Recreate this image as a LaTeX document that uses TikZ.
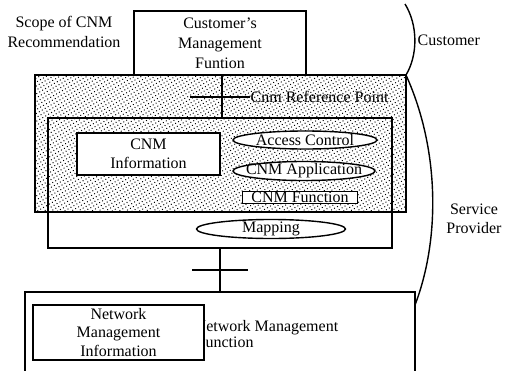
\documentclass[tikz,border=0pt]{standalone}
\usepackage{fontspec}
\setmainfont{Liberation Serif}
\usetikzlibrary{patterns.meta,shapes.geometric}
\begin{document}
\begin{tikzpicture}[x=1pt,y=-1pt,
  line width=1.4pt,
  txt/.style={font=\fontsize{16}{20}\selectfont, align=center, inner sep=0pt},
  txtb/.style={font=\fontsize{16}{18.5}\selectfont, align=center, inner sep=0pt},
  boxw/.style={draw, fill=white, inner sep=0pt},
  ellw/.style={draw, fill=white, ellipse, inner sep=0pt},
  stipple/.style={draw, inner sep=0pt, pattern={Dots[distance=3.4pt, radius=0.7pt, angle=30]}},
]
\useasboundingbox (0,0) rectangle (512,370);
\clip (0,0) rectangle (512,370);

% scope region (stippled)
\node[stipple, minimum width=371pt, minimum height=137pt] (scope) at (220.5,143.5) {};
% customer's management function
\node[boxw, txt, minimum width=172pt, minimum height=64pt] (cmf) at (220,43)
  {Customer’s\\Management\\Funtion};
% frame of the service provider's CNM system
\node[draw, inner sep=0pt, minimum width=344pt, minimum height=130pt] (frame) at (220,183) {};

% inner nodes
\node[boxw, txtb, minimum width=143pt, minimum height=42pt] (cnminfo) at (148.5,154) {CNM\\Information};
\node[ellw, minimum width=144pt, minimum height=18pt, label={[txt]center:Access Control}] (access) at (305,140) {};
\node[ellw, minimum width=142pt, minimum height=19pt, label={[txt]center:CNM Application}] (app) at (304,171) {};
\node[boxw, minimum width=115pt, minimum height=12pt, label={[txt]center:CNM Function}] (func) at (300,197.5) {};
\node[ellw, minimum width=149pt, minimum height=19pt, label={[txt]center:Mapping}] (mapping) at (271,229) {};

% network management function
\node[draw, inner sep=0pt, minimum width=390pt, minimum height=120pt] (nmf) at (220,352) {};
\node[txt, font=\fontsize{16}{15.5}\selectfont, align=left, anchor=west] (nmftext) at (194,334)
  {Network Management\\\hspace{2pt}Function};
\node[boxw, txtb, minimum width=171pt, minimum height=55pt] (nmi) at (118.5,332.5)
  {Network\\Management\\Information};

% labels
\node[txt] (scopelbl) at (64,32) {Scope of CNM\\Recommendation};
\node[txt, anchor=west] (custlbl) at (417,40) {Customer};
\node[txtb] (splbl) at (474,219) {Service\\Provider};
\node[txt, anchor=west] (reflbl) at (250,97) {Cnm Reference Point};

% upper reference point connector
\coordinate (u1) at (222,75);
\coordinate (u2) at (222,118);
\coordinate (ut1) at (190,97);
\draw (u1) -- (u2);
\draw (ut1) -- (reflbl.west);

% lower connector
\coordinate (l1) at (220,248);
\coordinate (l2) at (220,292);
\coordinate (lt1) at (192,270);
\coordinate (lt2) at (248,270);
\draw (l1) -- (l2);
\draw (lt1) -- (lt2);

% customer / service provider boundary curves
\coordinate (c0) at (405,4);
\coordinate (c1) at (406,75);
\coordinate (c2) at (415,305);
\draw (c0) .. controls (418,25) and (418,55) .. (c1);
\draw (c1) .. controls (440,150) and (440,240) .. (c2);
\end{tikzpicture}
\end{document}
